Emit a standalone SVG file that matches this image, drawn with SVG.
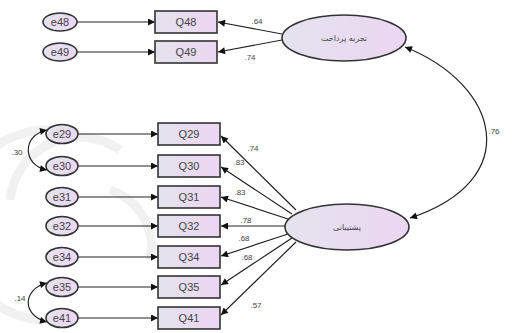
<svg xmlns="http://www.w3.org/2000/svg" width="513" height="333" viewBox="0 0 513 333">
<defs>
<linearGradient id="g" x1="0" y1="0" x2="1" y2="0">
<stop offset="0" stop-color="#e4e3ee"/>
<stop offset="1" stop-color="#ecd6f2"/>
</linearGradient>
<marker id="ah" viewBox="0 0 10 10" refX="10" refY="5" markerWidth="11" markerHeight="7" markerUnits="userSpaceOnUse" orient="auto-start-reverse">
<path d="M0,0 L10,5 L0,10 z" fill="#111"/>
</marker>
<style>
.box{fill:url(#g);stroke:#333;stroke-width:1.6}
.ell{fill:url(#g);stroke:#333;stroke-width:1.6}
.t{font-family:"Liberation Sans",Arial,sans-serif;font-size:11px;fill:#444;text-anchor:middle;dominant-baseline:central}
.fa{font-family:"DejaVu Sans","Noto Sans",sans-serif;font-size:8px;fill:#444;text-anchor:middle;dominant-baseline:central}
.lb{font-family:"Liberation Sans",Arial,sans-serif;font-size:8px;fill:#444;text-anchor:middle;dominant-baseline:central}
.c{fill:none;stroke:#222;stroke-width:1.2}
.wm{fill:none;stroke:#f1f1f1;stroke-width:9}
</style>
</defs>
<rect width="513" height="333" fill="#fff"/>
<g id="watermark">
<path class="wm" d="M60,130 A95,95 0 0 0 40,320"/>
<path class="wm" d="M110,190 A60,60 0 0 1 150,260"/>
<path class="wm" d="M10,200 A70,70 0 0 1 120,150"/>
</g>
<g id="connectors">
<line class="c" x1="77" y1="22" x2="155" y2="22" marker-end="url(#ah)"/>
<line class="c" x1="77" y1="52" x2="155" y2="52" marker-end="url(#ah)"/>
<line class="c" x1="78" y1="134" x2="158" y2="134" marker-end="url(#ah)"/>
<line class="c" x1="78" y1="166" x2="158" y2="166" marker-end="url(#ah)"/>
<line class="c" x1="78" y1="197" x2="158" y2="197" marker-end="url(#ah)"/>
<line class="c" x1="78" y1="226" x2="158" y2="226" marker-end="url(#ah)"/>
<line class="c" x1="78" y1="257" x2="158" y2="257" marker-end="url(#ah)"/>
<line class="c" x1="78" y1="287" x2="158" y2="287" marker-end="url(#ah)"/>
<line class="c" x1="78" y1="318" x2="158" y2="318" marker-end="url(#ah)"/>
<line class="c" x1="282" y1="34" x2="218" y2="22" marker-end="url(#ah)"/>
<line class="c" x1="282" y1="40" x2="218" y2="52" marker-end="url(#ah)"/>
<line class="c" x1="296" y1="210" x2="221" y2="136" marker-end="url(#ah)"/>
<line class="c" x1="292" y1="214" x2="221" y2="167" marker-end="url(#ah)"/>
<line class="c" x1="288" y1="219" x2="221" y2="197" marker-end="url(#ah)"/>
<line class="c" x1="285" y1="226" x2="221" y2="226" marker-end="url(#ah)"/>
<line class="c" x1="288" y1="234" x2="221" y2="256" marker-end="url(#ah)"/>
<line class="c" x1="292" y1="238" x2="221" y2="285" marker-end="url(#ah)"/>
<line class="c" x1="296" y1="242" x2="221" y2="315" marker-end="url(#ah)"/>
<path class="c" d="M405,47 C500,85 525,180 410,218" marker-start="url(#ah)" marker-end="url(#ah)"/>
<path class="c" d="M47,130 C22,135 22,165 47,170" marker-start="url(#ah)" marker-end="url(#ah)"/>
<path class="c" d="M47,283 C22,289 22,316 47,322" marker-start="url(#ah)" marker-end="url(#ah)"/>
<text class="lb" x="257" y="21">.64</text>
<text class="lb" x="250" y="57">.74</text>
<text class="lb" x="494" y="131">.76</text>
<text class="lb" x="17" y="152">.30</text>
<text class="lb" x="20" y="298">.14</text>
<text class="lb" x="253" y="148">.74</text>
<text class="lb" x="239" y="162">.83</text>
<text class="lb" x="240" y="192">.83</text>
<text class="lb" x="246" y="220">.78</text>
<text class="lb" x="244" y="238">.68</text>
<text class="lb" x="247" y="257">.68</text>
<text class="lb" x="256" y="305">.57</text>
</g>
<g id="e48"><ellipse class="ell" cx="60" cy="22" rx="17" ry="9"/><text class="t" x="60" y="22">e48</text></g>
<g id="e49"><ellipse class="ell" cx="60" cy="52" rx="17" ry="9"/><text class="t" x="60" y="52">e49</text></g>
<g id="Q48"><rect class="box" x="155" y="11" width="62" height="22"/><text class="t" x="186" y="22">Q48</text></g>
<g id="Q49"><rect class="box" x="155" y="41" width="62" height="22"/><text class="t" x="186" y="52">Q49</text></g>
<g id="latent1"><ellipse class="ell" cx="344" cy="38" rx="62" ry="23"/><text class="fa" x="344" y="38">تجربه پرداخت</text></g>
<g id="e29"><ellipse class="ell" cx="62" cy="134" rx="16" ry="9.5"/><text class="t" x="62" y="134">e29</text></g>
<g id="e30"><ellipse class="ell" cx="62" cy="166" rx="16" ry="9.5"/><text class="t" x="62" y="166">e30</text></g>
<g id="e31"><ellipse class="ell" cx="62" cy="197" rx="16" ry="9.5"/><text class="t" x="62" y="197">e31</text></g>
<g id="e32"><ellipse class="ell" cx="62" cy="226" rx="16" ry="9.5"/><text class="t" x="62" y="226">e32</text></g>
<g id="e34"><ellipse class="ell" cx="62" cy="257" rx="16" ry="9.5"/><text class="t" x="62" y="257">e34</text></g>
<g id="e35"><ellipse class="ell" cx="62" cy="287" rx="16" ry="9.5"/><text class="t" x="62" y="287">e35</text></g>
<g id="e41"><ellipse class="ell" cx="62" cy="318" rx="16" ry="9.5"/><text class="t" x="62" y="318">e41</text></g>
<g id="Q29"><rect class="box" x="158" y="123" width="62" height="22"/><text class="t" x="189" y="134">Q29</text></g>
<g id="Q30"><rect class="box" x="158" y="155" width="62" height="22"/><text class="t" x="189" y="166">Q30</text></g>
<g id="Q31"><rect class="box" x="158" y="186" width="62" height="22"/><text class="t" x="189" y="197">Q31</text></g>
<g id="Q32"><rect class="box" x="158" y="215" width="62" height="22"/><text class="t" x="189" y="226">Q32</text></g>
<g id="Q34"><rect class="box" x="158" y="246" width="62" height="22"/><text class="t" x="189" y="257">Q34</text></g>
<g id="Q35"><rect class="box" x="158" y="276" width="62" height="22"/><text class="t" x="189" y="287">Q35</text></g>
<g id="Q41"><rect class="box" x="158" y="307" width="62" height="22"/><text class="t" x="189" y="318">Q41</text></g>
<g id="latent2"><ellipse class="ell" cx="347" cy="227" rx="62" ry="23"/><text class="fa" x="347" y="227">پشتیبانی</text></g>
</svg>
